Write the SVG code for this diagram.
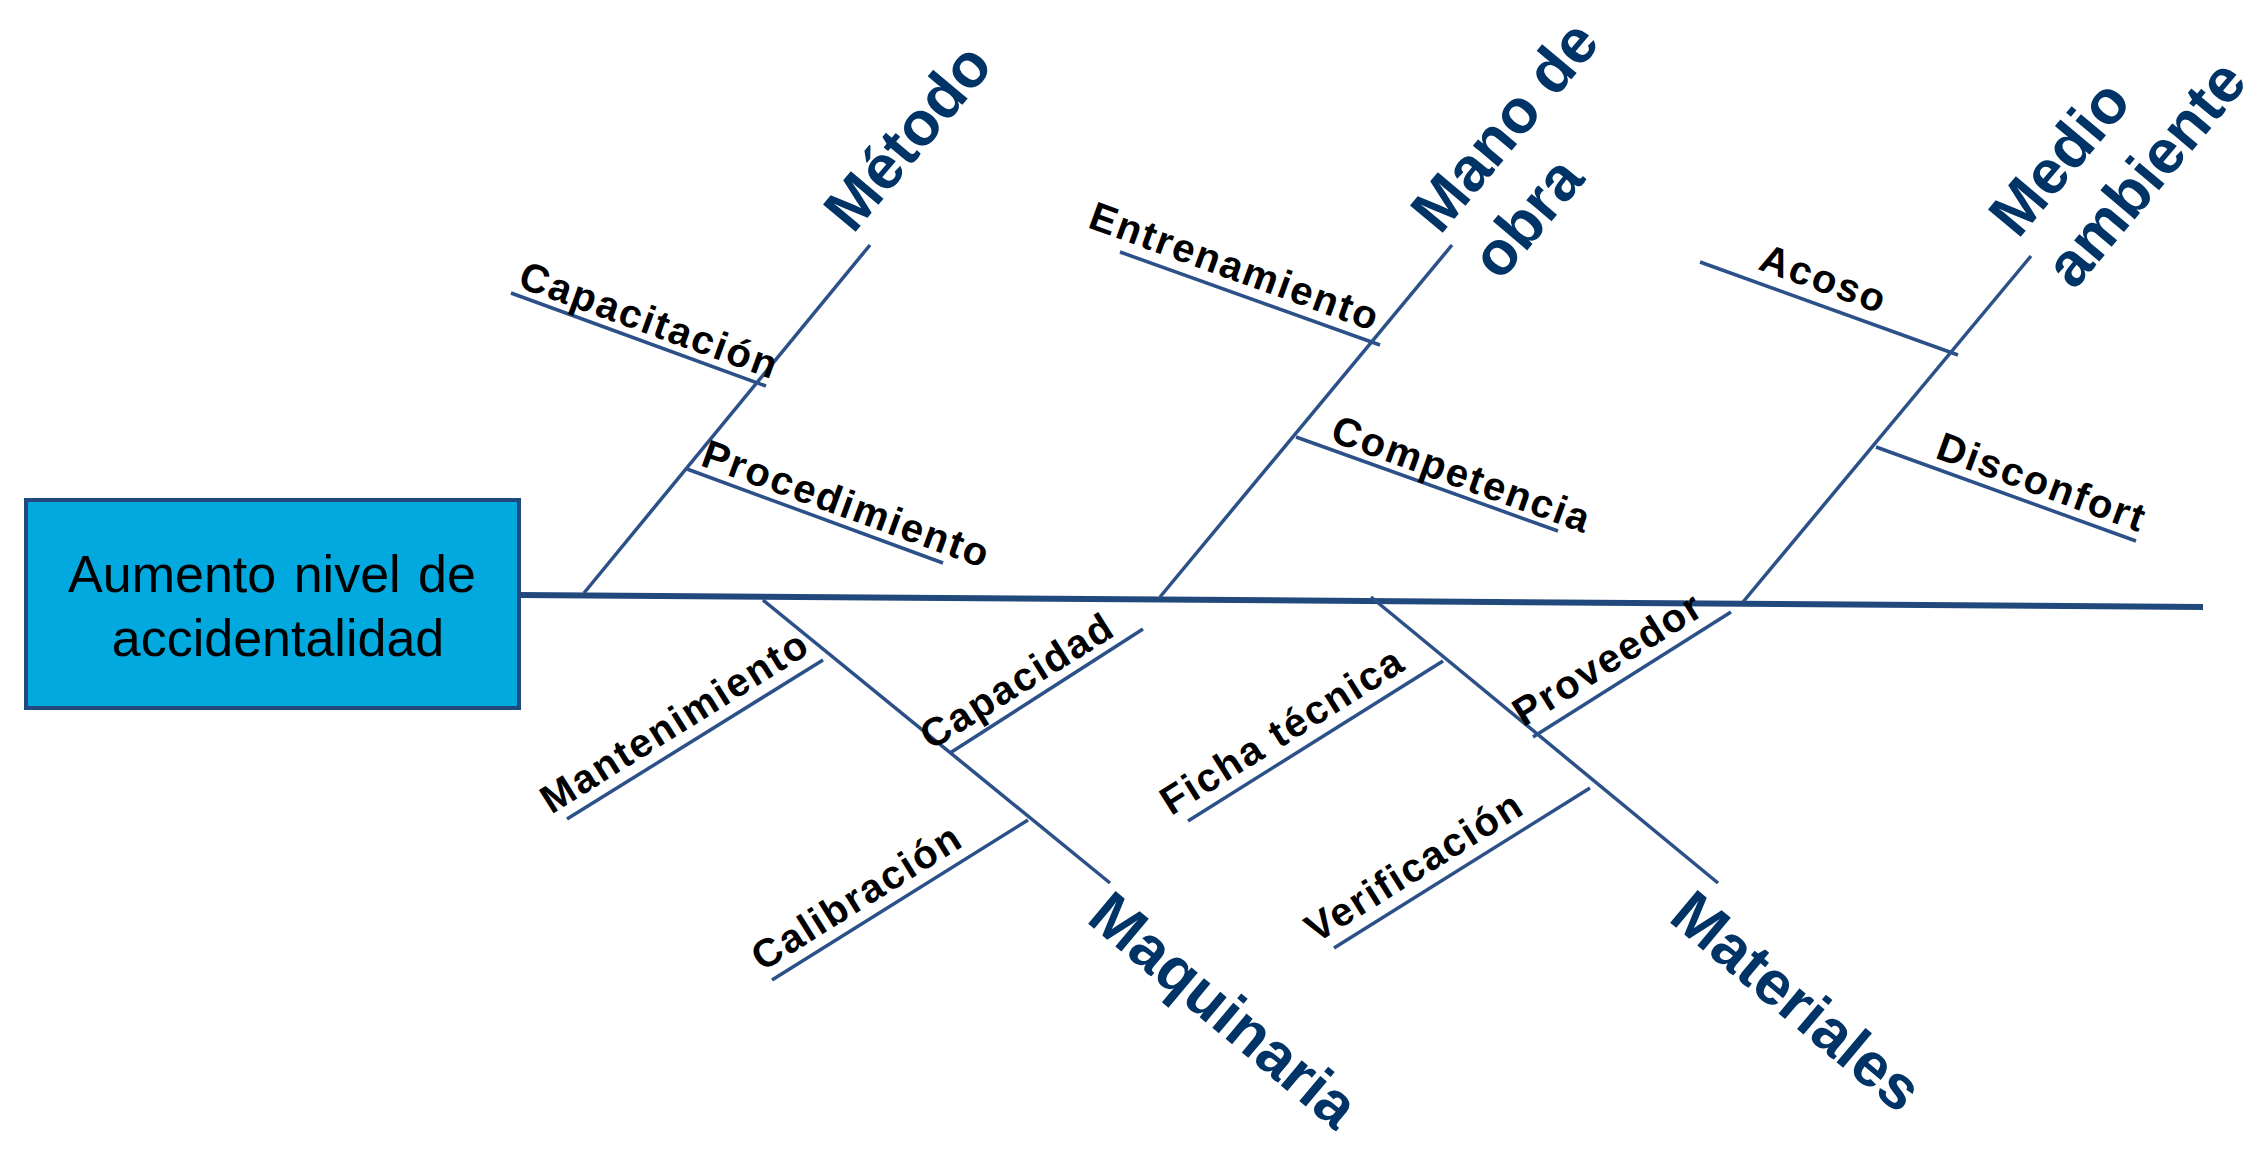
<svg xmlns="http://www.w3.org/2000/svg" width="2267" height="1156" viewBox="0 0 2267 1156">
<style>
.sub{font-family:"Liberation Sans",Arial,sans-serif;font-weight:bold;font-size:40px;letter-spacing:2px;fill:#000}
.cat{font-family:"Liberation Sans",Arial,sans-serif;font-weight:bold;font-size:62px;fill:#003366}
.eff{font-family:"Liberation Sans",Arial,sans-serif;font-size:52px;fill:#000;text-anchor:middle}
.ln{stroke:#2B5188;stroke-width:3.5;fill:none}
.spine{stroke:#21497C;stroke-width:6;fill:none}
</style>
<rect width="2267" height="1156" fill="#fff"/>
<g id="connectors">
<line class="spine" x1="519" y1="595" x2="2203" y2="607"/>
<line class="ln" x1="584" y1="593" x2="870" y2="245"/>
<line class="ln" x1="511" y1="293" x2="766" y2="386"/>
<line class="ln" x1="687" y1="469" x2="943" y2="563"/>
<line class="ln" x1="1160" y1="597" x2="1452" y2="245"/>
<line class="ln" x1="1120" y1="252" x2="1380" y2="345"/>
<line class="ln" x1="1296" y1="437" x2="1558" y2="531"/>
<line class="ln" x1="1743" y1="602" x2="2031" y2="256"/>
<line class="ln" x1="1700" y1="262" x2="1958" y2="355"/>
<line class="ln" x1="1876" y1="447" x2="2136" y2="541"/>
<line class="ln" x1="763" y1="600" x2="1110" y2="883"/>
<line class="ln" x1="567" y1="819" x2="823" y2="660"/>
<line class="ln" x1="950" y1="753" x2="1143" y2="629"/>
<line class="ln" x1="772" y1="980" x2="1028" y2="820"/>
<line class="ln" x1="1371" y1="597" x2="1718" y2="883"/>
<line class="ln" x1="1188" y1="821" x2="1443" y2="661"/>
<line class="ln" x1="1533" y1="737" x2="1731" y2="612"/>
<line class="ln" x1="1334" y1="948" x2="1590" y2="788"/>
</g>
<g id="effect">
<rect x="26" y="500" width="493" height="208" fill="#02A9DE" stroke="#21497C" stroke-width="4"/>
<text class="eff" x="272" y="592" word-spacing="3">Aumento nivel de</text>
<text class="eff" x="278" y="656">accidentalidad</text>
</g>
<g id="cat-metodo" transform="translate(853,235) rotate(-50)"><text class="cat">Método</text></g>
<g id="cat-mano" transform="translate(1440,236) rotate(-50)"><text class="cat">Mano de</text><text class="cat" x="3" y="76">obra</text></g>
<g id="cat-medio" transform="translate(2018,240) rotate(-50)"><text class="cat">Medio</text><text class="cat" x="-3" y="76">ambiente</text></g>
<g id="cat-maquinaria" transform="translate(1085,921) rotate(40)"><text class="cat">Maquinaria</text></g>
<g id="cat-materiales" transform="translate(1667,920) rotate(40)"><text class="cat">Materiales</text></g>
<g id="capacitacion" transform="translate(511,293) rotate(20)"><text class="sub" x="3" y="-8">Capacitación</text></g>
<g id="procedimiento" transform="translate(687,469) rotate(20)"><text class="sub" x="10" y="-8">Procedimiento</text></g>
<g id="entrenamiento" transform="translate(1120,252) rotate(20)"><text class="sub" x="-40" y="-12">Entrenamiento</text></g>
<g id="competencia" transform="translate(1296,437) rotate(20)"><text class="sub" x="32" y="-8">Competencia</text></g>
<g id="acoso" transform="translate(1700,262) rotate(20)"><text class="sub" x="56" y="-13">Acoso</text></g>
<g id="disconfort" transform="translate(1876,447) rotate(20)"><text class="sub" x="58" y="-10">Disconfort</text></g>
<g id="mantenimiento" transform="translate(567,819) rotate(-32)"><text class="sub" x="-11" y="-12">Mantenimiento</text></g>
<g id="capacidad" transform="translate(950,753) rotate(-32)"><text class="sub" x="-15" y="-12">Capacidad</text></g>
<g id="calibracion" transform="translate(772,980) rotate(-32)"><text class="sub" x="-4" y="-12">Calibración</text></g>
<g id="ficha" transform="translate(1188,821) rotate(-32)"><text class="sub" x="-12" y="-13">Ficha técnica</text></g>
<g id="proveedor" transform="translate(1533,737) rotate(-32)"><text class="sub" x="-3" y="-13">Proveedor</text></g>
<g id="verificacion" transform="translate(1334,948) rotate(-32)"><text class="sub" x="-13" y="-13">Verificación</text></g>
</svg>
